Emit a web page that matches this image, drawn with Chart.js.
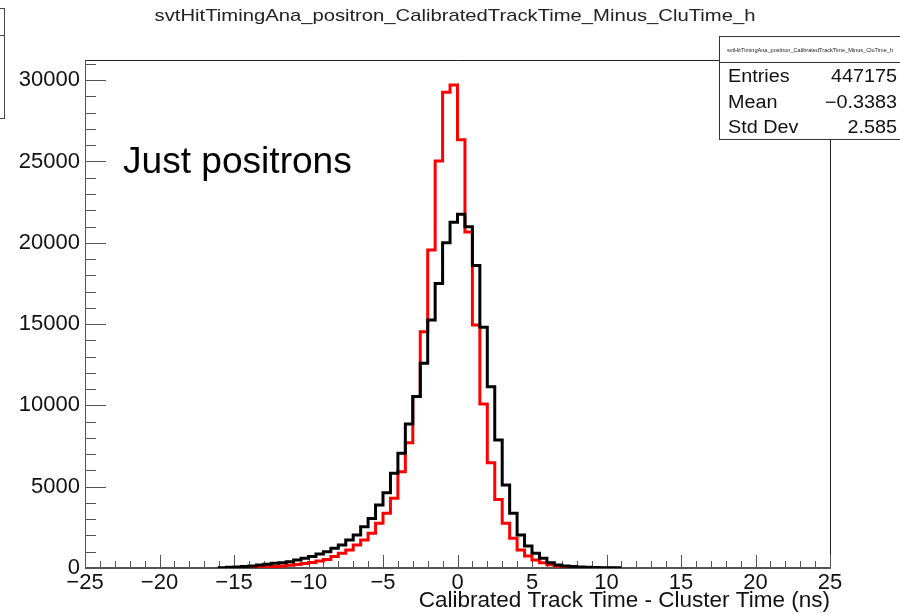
<!DOCTYPE html>
<html>
<head>
<meta charset="utf-8">
<script src="https://cdn.jsdelivr.net/npm/chart.js@4.4.1/dist/chart.umd.min.js"></script>
<style>
  html, body { margin: 0; padding: 0; background: #fff; }
  #wrap { position: relative; width: 900px; height: 614px; }
</style>
</head>
<body>
<div id="wrap"><canvas id="histo"></canvas></div>
<script>
/* Track time minus cluster time, 0.5 ns bins starting at -16 ns */
var binWidth = 0.5;
var firstEdge = -16;

// all tracks (black)
var countsAll = [
  0, 20, 40, 60, 90, 130, 185, 230, 290, 330, 390, 490, 600, 700, 860, 1000,
  1210, 1410, 1720, 2030, 2540, 3050, 3870, 4630, 5820, 7050, 8860, 10540, 12590, 15250, 17490, 20000,
  21260, 21750, 20990, 18600, 14800, 11150, 7870, 5100, 3360, 2030, 1350, 900, 600, 330, 185, 120,
  90, 60, 40, 30, 20, 10
];

// positrons only (red)
var countsPositron = [
  null, null, null, null, 0, 20, 35, 55, 85, 120, 165, 215, 275, 345, 430, 530,
  700, 900, 1110, 1410, 1720, 2130, 2750, 3360, 4290, 5920, 7700, 10540, 14530, 19550, 25030, 29250,
  29700, 26330, 20660, 14950, 10080, 6480, 4220, 2750, 1830, 1110, 740, 490, 330, 200, 120, 70,
  40, 25, 15, 10, 0, null
];

var xTickValues = [-25, -20, -15, -10, -5, 0, 5, 10, 15, 20, 25];
var yTickValues = [0, 5000, 10000, 15000, 20000, 25000, 30000];

var histName = 'svtHitTimingAna_positron_CalibratedTrackTime_Minus_CluTime_h';
var xTitle = 'Calibrated Track Time - Cluster Time (ns)';
var note = 'Just positrons';
var statsLabels = ['Entries', 'Mean', 'Std Dev'];
var statsValues = ['447175', '\u22120.3383', '2.585'];

var FONT = '"Liberation Sans", Arial, Helvetica, sans-serif';

// histogram -> step points (left edge of every bin + closing edge)
function toSteps(counts) {
  var pts = [], last = 0;
  counts.forEach(function (c, i) {
    if (c === null) return;
    pts.push({ x: firstEdge + i * binWidth, y: c });
    last = i;
  });
  pts.push({ x: firstEdge + (last + 1) * binWidth, y: counts[last] });
  return pts;
}

function fmtTick(v) {
  return v < 0 ? '\u2212' + Math.abs(v) : String(v);
}

// text with a horizontal stretch, ROOT canvas style
function drawText(ctx, txt, x, y, size, align, sx, color) {
  ctx.save();
  ctx.font = size + 'px ' + FONT;
  ctx.fillStyle = color || '#000';
  ctx.textBaseline = 'alphabetic';
  var w = ctx.measureText(txt).width * sx;
  var left = align === 'right' ? x - w : align === 'center' ? x - w / 2 : x;
  ctx.translate(left, y);
  ctx.scale(sx, 1);
  ctx.textAlign = 'left';
  ctx.fillText(txt, 0, 0);
  ctx.restore();
}

/* frame + inward ticks, title, stats box */
var framePlugin = {
  id: 'rootFrame',
  beforeDatasetsDraw: function (chart) {
    var ctx = chart.ctx, a = chart.chartArea;
    var xs = chart.scales.x, ys = chart.scales.y;
    ctx.save();
    ctx.strokeStyle = '#222';
    ctx.lineWidth = 1;
    ctx.beginPath();
    ctx.moveTo(a.left, a.top + 0.5); ctx.lineTo(a.right, a.top + 0.5);
    ctx.moveTo(a.right + 0.5, a.top); ctx.lineTo(a.right + 0.5, a.bottom);
    ctx.stroke();

    ctx.strokeStyle = '#555';
    ctx.beginPath();
    ctx.moveTo(a.left + 0.5, a.top); ctx.lineTo(a.left + 0.5, a.bottom);
    ctx.stroke();
    ctx.lineWidth = 2;
    ctx.beginPath();
    ctx.moveTo(a.left, a.bottom); ctx.lineTo(a.right + 1, a.bottom);
    ctx.stroke();

    ctx.lineWidth = 1;
    ctx.beginPath();
    for (var v = xs.min; v <= xs.max; v += 1) {
      var px = Math.round(xs.getPixelForValue(v)) + 0.5;
      var len = (v % 5 === 0) ? 13 : 7;
      ctx.moveTo(px, a.bottom); ctx.lineTo(px, a.bottom - len);
    }
    for (var c = 0; c <= ys.max; c += 1000) {
      var py = Math.round(ys.getPixelForValue(c)) + 0.5;
      var l = (c % 5000 === 0) ? 21 : 11;
      ctx.moveTo(a.left, py); ctx.lineTo(a.left + l, py);
    }
    ctx.stroke();
    ctx.restore();
  },
  afterDraw: function (chart) {
    var ctx = chart.ctx;
    ctx.save();

    drawText(ctx, histName, 455, 21, 17, 'center', 1.19, '#222');
    drawText(ctx, note, 123, 173, 36, 'left', 1.03, '#000');

    // partial box at the top-left corner
    ctx.strokeStyle = '#444';
    ctx.lineWidth = 1;
    ctx.strokeRect(-2, 8.5, 6.5, 110);
    ctx.beginPath(); ctx.moveTo(0, 35.5); ctx.lineTo(4.5, 35.5); ctx.stroke();

    // stats box
    var bx = 719.5, by = 36.5, bw = 190, bh = 103;
    ctx.fillStyle = '#fff';
    ctx.fillRect(bx, by, bw, bh);
    ctx.strokeStyle = '#333';
    ctx.strokeRect(bx, by, bw, bh);
    ctx.beginPath(); ctx.moveTo(bx, 62.5); ctx.lineTo(bx + bw, 62.5); ctx.stroke();
    drawText(ctx, histName, 810, 51.5, 5.6, 'center', 1.0, '#222');
    for (var i = 0; i < statsLabels.length; i++) {
      var base = 82 + i * 25.5;
      drawText(ctx, statsLabels[i], 728, base, 18, 'left', 1.1, '#111');
      drawText(ctx, statsValues[i], 897, base, 18, 'right', 1.1, '#111');
    }
    ctx.restore();
  }
};

function fixedTicks(values) {
  return function (scale) {
    scale.ticks = values.map(function (v) { return { value: v }; });
  };
}

new Chart(document.getElementById('histo'), {
  type: 'line',
  data: {
    datasets: [
      { label: 'all', data: toSteps(countsAll), stepped: 'after', borderColor: '#000', borderWidth: 3,
        pointRadius: 0, fill: false, borderJoinStyle: 'miter' },
      { label: 'positron', data: toSteps(countsPositron), stepped: 'after', borderColor: '#ff0000', borderWidth: 3,
        pointRadius: 0, fill: false, borderJoinStyle: 'miter' }
    ]
  },
  options: {
    responsive: true,
    maintainAspectRatio: false,
    animation: false,
    layout: { padding: { top: 60, right: 70, left: 0, bottom: 0 } },
    plugins: { legend: { display: false }, tooltip: { enabled: false }, title: { display: false } },
    scales: {
      x: {
        type: 'linear', min: -25, max: 25,
        grid: { display: false, drawTicks: false },
        border: { display: false },
        afterBuildTicks: fixedTicks(xTickValues),
        ticks: { padding: 2, color: '#111', maxRotation: 0, autoSkip: false,
          font: { family: FONT, size: 22 }, callback: fmtTick },
        title: { display: true, text: xTitle, align: 'end', color: '#111', padding: { top: -4, bottom: 0 },
          font: { family: FONT, size: 22.5 } },
        afterFit: function (s) { s.height = 46; }
      },
      y: {
        type: 'linear', min: 0, max: 31240,
        grid: { display: false, drawTicks: false },
        border: { display: false },
        afterBuildTicks: fixedTicks(yTickValues),
        ticks: { padding: 5, color: '#111', autoSkip: false,
          font: { family: FONT, size: 22 }, callback: fmtTick },
        afterFit: function (s) { s.width = 85; }
      }
    }
  },
  plugins: [framePlugin]
});
</script>
</body>
</html>
